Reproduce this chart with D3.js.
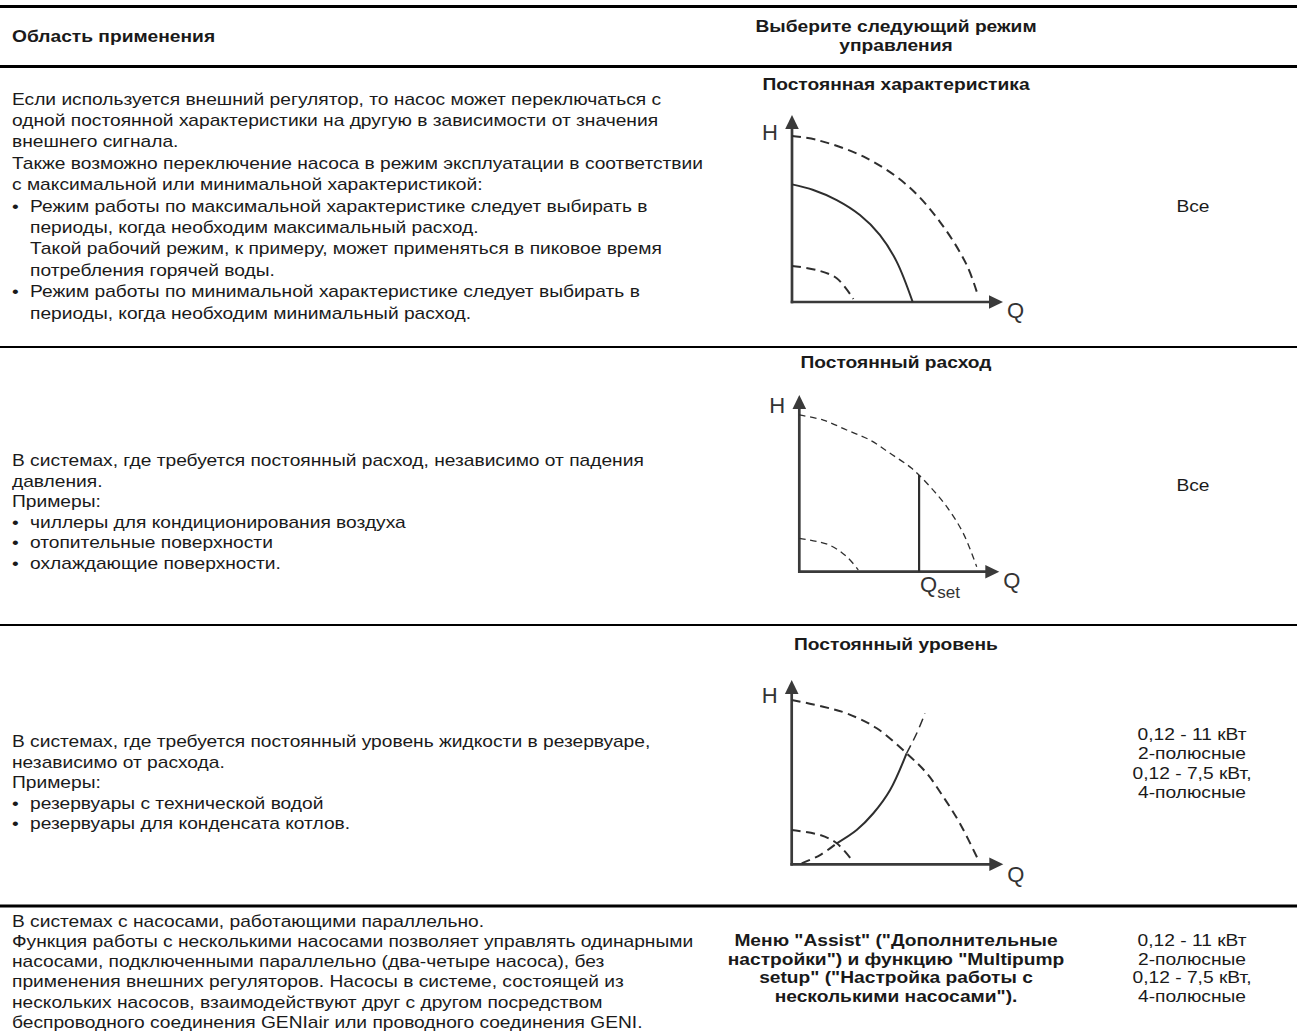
<!DOCTYPE html>
<html><head><meta charset="utf-8">
<script src="https://cdn.jsdelivr.net/npm/d3@7"></script>
<style>body{margin:0;background:#fff}svg{display:block}</style>
</head><body><svg id="c" width="1297" height="1036"></svg>
<script>
// ---------- data ----------
const headerLeft = "Область применения";
const headerMid = ["Выберите следующий режим", "управления"];
const modeTitles = ["Постоянная характеристика", "Постоянный расход", "Постоянный уровень"];
const row1Text = [
  "Если используется внешний регулятор, то насос может переключаться с",
  "одной постоянной характеристики на другую в зависимости от значения",
  "внешнего сигнала.",
  "Также возможно переключение насоса в режим эксплуатации в соответствии",
  "с максимальной или минимальной характеристикой:",
  "• Режим работы по максимальной характеристике следует выбирать в",
  "  периоды, когда необходим максимальный расход.",
  "  Такой рабочий режим, к примеру, может применяться в пиковое время",
  "  потребления горячей воды.",
  "• Режим работы по минимальной характеристике следует выбирать в",
  "  периоды, когда необходим минимальный расход."
];
const row2Text = [
  "В системах, где требуется постоянный расход, независимо от падения",
  "давления.",
  "Примеры:",
  "• чиллеры для кондиционирования воздуха",
  "• отопительные поверхности",
  "• охлаждающие поверхности."
];
const row3Text = [
  "В системах, где требуется постоянный уровень жидкости в резервуаре,",
  "независимо от расхода.",
  "Примеры:",
  "• резервуары с технической водой",
  "• резервуары для конденсата котлов."
];
const row4Text = [
  "В системах с насосами, работающими параллельно.",
  "Функция работы с несколькими насосами позволяет управлять одинарными",
  "насосами, подключенными параллельно (два-четыре насоса), без",
  "применения внешних регуляторов. Насосы в системе, состоящей из",
  "нескольких насосов, взаимодействуют друг с другом посредством",
  "беспроводного соединения GENIair или проводного соединения GENI."
];
const row4Mid = [
  "Меню \"Assist\" (\"Дополнительные",
  "настройки\") и функцию \"Multipump",
  "setup\" (\"Настройка работы с",
  "несколькими насосами\")."
];
const powerText = ["0,12 - 11 кВт", "2-полюсные", "0,12 - 7,5 кВт,", "4-полюсные"];
const allText = ["Все"];

// pump curves (Q, H in % of axis length)
const p1OuterQ = [0, 12, 34, 54.4, 70.1, 82.8, 88.3];
const p1OuterH = [88.8, 86.6, 77.7, 62.6, 42.9, 19.8, 2.8];
const p1MidQ = [0, 10.1, 21.2, 32.2, 41.7, 49.6, 57.2];
const p1MidH = [62.9, 59.9, 54.5, 46.5, 35.8, 21.6, 0];
const p1InnerQ = [0, 11.7, 21.2, 29.1];
const p1InnerH = [19.3, 17.1, 12.7, 1.6];

const p2OuterQ = [0, 12, 23.7, 35.4, 45.4, 56.2, 65.4, 73.7, 82, 88.7];
const p2OuterH = [88.7, 85.8, 80.2, 74.5, 67, 58.5, 48.1, 36.8, 21.7, 2.8];
const p2InnerQ = [0, 15, 23.7, 29.5];
const p2InnerH = [18.9, 15.1, 8.5, 1];
const p2QsetQ = [59.9, 59.9];
const p2QsetH = [0, 54.7];

const p3OuterQ = [0, 14.9, 26, 40.2, 54.3, 63.8, 71.6, 79.5, 88.2];
const p3OuterH = [89.2, 85.5, 81.9, 73.8, 60.2, 49.4, 36.7, 22.2, 2.3];
const p3InnerQ = [0, 13.4, 21.3, 29.1];
const p3InnerH = [18.6, 15.9, 11.4, 1.4];
const p3SysLowQ = [4.7, 13.4, 21.3];
const p3SysLowH = [0.5, 5, 11.4];
const p3SysMidQ = [21.3, 30.7, 38.6, 46.5, 54.3];
const p3SysMidH = [11.4, 18.6, 27.7, 40.3, 60.2];
const p3SysHighQ = [54.3, 59.1, 63];
const p3SysHighH = [60.2, 71.1, 81.9];

// ---------- drawing ----------
const svg = d3.select("#c");
const FONT = "'Liberation Sans', Arial, sans-serif";
const SX = 1.2;
const INK = "#1a1a1a";
svg.append("rect").attr("width", 1297).attr("height", 1036).attr("fill", "#fff");

function txt(x, y, s, opt = {}) {
  return svg.append("text")
    .attr("transform", `translate(${x},${y}) scale(${opt.sx || SX},1)`)
    .attr("font-family", FONT)
    .attr("font-size", opt.size || 16)
    .attr("font-weight", opt.bold ? "bold" : "normal")
    .attr("text-anchor", opt.anchor || "start")
    .attr("fill", INK)
    .text(s);
}
function block(lines, x, y0, gap, opt = {}) {
  lines.forEach((s, i) => {
    const y = y0 + i * gap;
    if (s.startsWith("• ")) {
      txt(x, y, "•", opt);
      txt(x + 18, y, s.slice(2), opt);
    } else if (s.startsWith("  ")) {
      txt(x + 18, y, s.slice(2), opt);
    } else txt(x, y, s, opt);
  });
}

// rules
[[6.5, 3], [66.5, 3], [347, 2.2], [625, 2.2], [906, 3]].forEach(([y, w]) => {
  svg.append("line").attr("x1", 0).attr("x2", 1297).attr("y1", y).attr("y2", y)
    .attr("stroke", "#000").attr("stroke-width", w);
});

// header
txt(12, 42, headerLeft, { bold: true });
headerMid.forEach((s, i) => txt(896, 32 + i * 18.5, s, { bold: true, anchor: "middle" }));

// titles
[90, 368, 650].forEach((y, i) => txt(896, y, modeTitles[i], { bold: true, anchor: "middle" }));

// body text
block(row1Text, 12, 104.5, 21.4);
block(row2Text, 12, 466, 20.5);
block(row3Text, 12, 747, 20.5);
block(row4Text, 12, 926.5, 20.3);
row4Mid.forEach((s, i) => txt(896, 946 + i * 18.5, s, { bold: true, anchor: "middle" }));
txt(1193, 211.5, allText[0], { anchor: "middle" });
txt(1193, 490.5, allText[0], { anchor: "middle" });
powerText.forEach((s, i) => txt(1192, 739.5 + i * 19.5, s, { anchor: "middle" }));
powerText.forEach((s, i) => txt(1192, 946 + i * 18.5, s, { anchor: "middle" }));

// panels
const AX = "#3a3a3a", CV = "#2e2e2e";
function panel(cfg) {
  const g = svg.append("g");
  const x = d3.scaleLinear().domain([0, 100]).range([cfg.ox, cfg.xt]);
  const y = d3.scaleLinear().domain([0, 100]).range([cfg.oy, cfg.yt]);
  const L = 14, W = 6.8;
  g.append("line").attr("x1", x(0)).attr("x2", x(0)).attr("y1", y(0) + 1.3).attr("y2", y(100) + L - 1)
    .attr("stroke", AX).attr("stroke-width", 2.7);
  g.append("line").attr("x1", x(0) - 1.3).attr("x2", x(100) - L + 1).attr("y1", y(0)).attr("y2", y(0))
    .attr("stroke", AX).attr("stroke-width", 2.7);
  g.append("path").attr("d", `M${x(0)},${y(100)}L${x(0) - W},${y(100) + L}L${x(0) + W},${y(100) + L}Z`).attr("fill", AX);
  g.append("path").attr("d", `M${x(100)},${y(0)}L${x(100) - L},${y(0) - W}L${x(100) - L},${y(0) + W}Z`).attr("fill", AX);
  const line = d3.line().x(d => x(d[0])).y(d => y(d[1])).curve(d3.curveCatmullRom.alpha(0.5));
  cfg.curves.forEach(c => {
    const pts = c.q.map((q, i) => [q, c.h[i]]);
    g.append("path").attr("d", c.straight ? d3.line().x(d => x(d[0])).y(d => y(d[1]))(pts) : line(pts))
      .attr("fill", "none").attr("stroke", CV).attr("stroke-width", c.w || 2)
      .attr("stroke-dasharray", c.dash || null);
  });
  svg.append("text").attr("x", x(0) - 30).attr("y", cfg.hY).attr("font-family", FONT).attr("font-size", 22)
    .attr("fill", "#333").text("H");
  svg.append("text").attr("x", x(100) + 4).attr("y", cfg.qY).attr("font-family", FONT).attr("font-size", 22)
    .attr("fill", "#333").text("Q");
  return { x, y };
}
const D1 = "9,5.5", D2 = "6.5,4.5";
panel({ ox: 792, oy: 302, xt: 1003, yt: 115, hY: 140, qY: 318,
  curves: [
    { q: p1OuterQ, h: p1OuterH, dash: D1 },
    { q: p1MidQ, h: p1MidH },
    { q: p1InnerQ, h: p1InnerH, dash: D1 }
  ] });
const p2 = panel({ ox: 799.3, oy: 571.7, xt: 999.3, yt: 395, hY: 413, qY: 588,
  curves: [
    { q: p2OuterQ, h: p2OuterH, dash: D2, w: 1.3 },
    { q: p2InnerQ, h: p2InnerH, dash: D2, w: 1.3 },
    { q: p2QsetQ, h: p2QsetH, straight: true, w: 2.2 }
  ] });
const qs = svg.append("text").attr("x", p2.x(p2QsetQ[0]) + 1).attr("y", 592).attr("font-family", FONT)
  .attr("font-size", 22).attr("fill", "#333").attr("text-anchor", "start");
qs.append("tspan").text("Q");
qs.append("tspan").attr("font-size", 17).attr("dy", 6).text("set");
panel({ ox: 791.7, oy: 864.3, xt: 1003.3, yt: 680, hY: 703, qY: 882,
  curves: [
    { q: p3OuterQ, h: p3OuterH, dash: D1 },
    { q: p3InnerQ, h: p3InnerH, dash: D1 },
    { q: p3SysLowQ, h: p3SysLowH, dash: D1 },
    { q: p3SysMidQ, h: p3SysMidH },
    { q: p3SysHighQ, h: p3SysHighH, dash: D1, w: 1.5 }
  ] });
</script></body></html>
